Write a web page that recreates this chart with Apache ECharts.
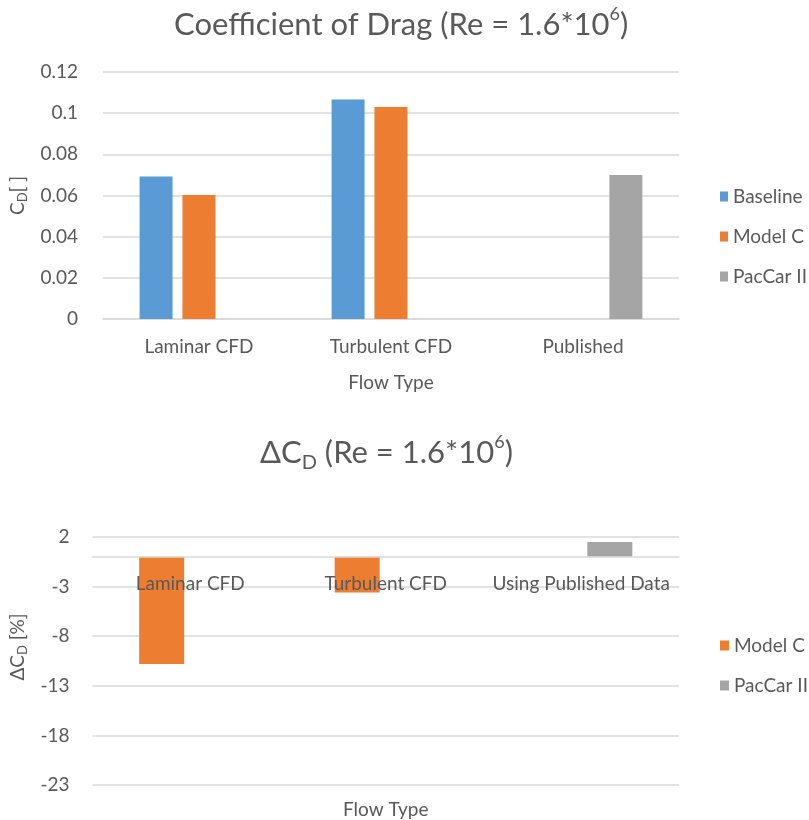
<!DOCTYPE html>
<html>
<head>
<meta charset="utf-8">
<script src="https://cdn.jsdelivr.net/npm/echarts@6/dist/echarts.min.js"></script>
<style>
  html, body { margin: 0; padding: 0; background: #fff; }
  #chart { width: 809px; height: 820px; }
</style>
</head>
<body>
<div id="chart"></div>
<script>
// Drag coefficient by flow type
const flowTypes = ['Laminar CFD', 'Turbulent CFD', 'Published'];
const baselineCd = [0.0692, 0.1066, null];
const modelCCd = [0.0603, 0.1030, null];
const pacCarCd = [null, null, 0.0699];

// Change in drag coefficient [%]
const deltaFlowTypes = ['Laminar CFD', 'Turbulent CFD', 'Using Published Data'];
const modelCDelta = [-10.8, -3.6, null];
const pacCarDelta = [null, null, 1.5];

// Value-axis ranges
const cdAxis = { min: 0, max: 0.12, interval: 0.02 };
const deltaAxis = { min: -23, max: 2, interval: 5 };

const FONT = 'Lato, "Open Sans", sans-serif';
const TEXT = '#595959';
const GRID_LINE = '#d9d9d9';
const BLUE = '#5b9bd5', ORANGE = '#ed7d31', GRAY = '#a5a5a5';

const lowerGrid = { left: 88, top: 537, width: 591, height: 250 };
// distance from the lower plot's bottom edge up to its zero line
const zeroRise = lowerGrid.height * (0 - deltaAxis.min) / (deltaAxis.max - deltaAxis.min);

const titleRich = {
  t: { fontFamily: FONT, fontSize: 31, fontWeight: 'normal', color: TEXT, lineHeight: 40 },
  sup: { fontFamily: FONT, fontSize: 18, fontWeight: 'normal', color: TEXT, lineHeight: 18, verticalAlign: 'top' },
  sub: { fontFamily: FONT, fontSize: 20, fontWeight: 'normal', color: TEXT, lineHeight: 20, verticalAlign: 'bottom' }
};
const nameRich = {
  n: { fontFamily: FONT, fontSize: 19, color: TEXT, lineHeight: 24 },
  s: { fontFamily: FONT, fontSize: 13, color: TEXT, lineHeight: 13, verticalAlign: 'bottom' }
};

const labelStyle = { fontFamily: FONT, fontSize: 19, color: TEXT };
const legendText = { fontFamily: FONT, fontSize: 19, color: TEXT };

const chart = echarts.init(document.getElementById('chart'), null, { renderer: 'canvas' });

chart.setOption({
  animation: false,
  backgroundColor: '#ffffff',
  title: [
    {
      text: '{t|Coefficient of Drag (Re = 1.6*10}{sup|6}{t|)}',
      left: 169, top: 0,
      textStyle: { fontWeight: 'normal', rich: titleRich }
    },
    {
      text: '{t|ΔC}{sub|D}{t| (Re = 1.6*10}{sup|6}{t|)}',
      left: 255, top: 428,
      textStyle: { fontWeight: 'normal', rich: titleRich }
    }
  ],
  legend: [
    {
      data: ['Baseline', 'Model C', 'PacCar II'],
      orient: 'vertical', left: 715, top: 182,
      icon: 'rect', itemWidth: 8, itemHeight: 10, itemGap: 21,
      textStyle: legendText
    },
    {
      data: ['Model C', 'PacCar II'],
      orient: 'vertical', left: 715, top: 631,
      icon: 'rect', itemWidth: 9, itemHeight: 10, itemGap: 21,
      textStyle: legendText
    }
  ],
  grid: [
    { left: 97, top: 72, width: 582, height: 247 },
    lowerGrid
  ],
  xAxis: [
    {
      type: 'category', gridIndex: 0, data: flowTypes,
      axisLine: { lineStyle: { color: GRID_LINE, width: 1.5 } },
      axisTick: { show: false },
      axisLabel: Object.assign({ margin: 18, interval: 0 }, labelStyle),
      name: 'Flow Type', nameLocation: 'middle', nameGap: 54,
      nameTextStyle: labelStyle
    },
    {
      // category labels sit just under the zero line, drawn above the bars
      type: 'category', gridIndex: 1, data: deltaFlowTypes, z: 5,
      axisLine: { onZero: true, lineStyle: { color: GRID_LINE, width: 1.5 } },
      axisTick: { show: false },
      axisLabel: Object.assign({ margin: 19 - zeroRise, interval: 0, hideOverlap: false }, labelStyle)
    },
    {
      // carries only the axis title along the bottom edge of the lower plot
      type: 'category', gridIndex: 1, data: deltaFlowTypes, position: 'bottom',
      axisLine: { show: false, onZero: false },
      axisTick: { show: false },
      axisLabel: { show: false },
      name: 'Flow Type', nameLocation: 'middle', nameGap: 15,
      nameTextStyle: labelStyle
    }
  ],
  yAxis: [
    {
      type: 'value', gridIndex: 0, min: cdAxis.min, max: cdAxis.max, interval: cdAxis.interval,
      axisLine: { show: false }, axisTick: { show: false },
      axisLabel: Object.assign({ margin: 25 }, labelStyle),
      splitLine: { lineStyle: { color: GRID_LINE, width: 1.5 } },
      name: '{n|C}{s|D}{n|[ ]}', nameLocation: 'middle', nameGap: 72, nameRotate: 90,
      nameTextStyle: { rich: nameRich }
    },
    {
      type: 'value', gridIndex: 1, min: deltaAxis.min, max: deltaAxis.max, interval: deltaAxis.interval,
      axisLine: { show: false }, axisTick: { show: false },
      axisLabel: Object.assign({ margin: 23 }, labelStyle),
      splitLine: { lineStyle: { color: GRID_LINE, width: 1.5 } },
      name: '{n|ΔC}{s|D}{n| [%]}', nameLocation: 'middle', nameGap: 58, nameRotate: 90,
      nameTextStyle: { rich: nameRich, padding: [0, 0, 0, 28] }
    }
  ],
  series: [
    { name: 'Baseline', type: 'bar', xAxisIndex: 0, yAxisIndex: 0, data: baselineCd,
      itemStyle: { color: BLUE }, barWidth: 33, barGap: '30%' },
    { name: 'Model C', type: 'bar', xAxisIndex: 0, yAxisIndex: 0, data: modelCCd,
      itemStyle: { color: ORANGE }, barWidth: 33, barGap: '30%' },
    { name: 'PacCar II', type: 'bar', xAxisIndex: 0, yAxisIndex: 0, data: pacCarCd,
      itemStyle: { color: GRAY }, barWidth: 33, barGap: '30%' },
    { name: 'Model C', type: 'bar', xAxisIndex: 1, yAxisIndex: 1, data: modelCDelta,
      itemStyle: { color: ORANGE }, barWidth: 45, barGap: '27%' },
    { name: 'PacCar II', type: 'bar', xAxisIndex: 1, yAxisIndex: 1, data: pacCarDelta,
      itemStyle: { color: GRAY }, barWidth: 45, barGap: '27%' }
  ]
});
</script>
</body>
</html>
